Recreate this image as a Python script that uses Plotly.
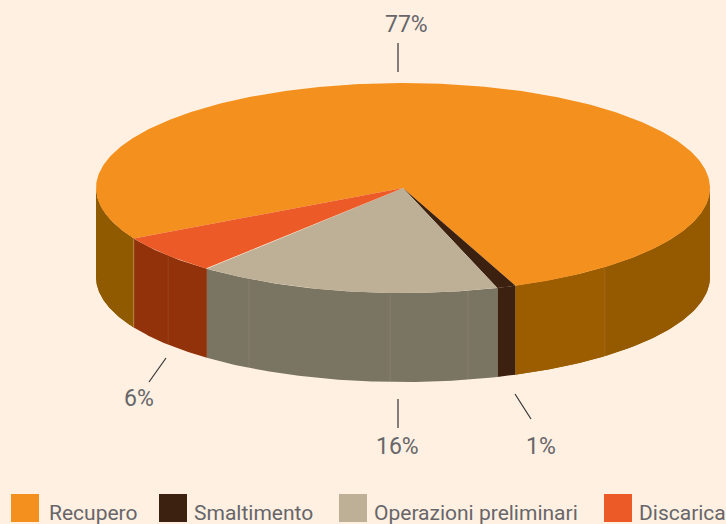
import numpy as np
import plotly.graph_objects as go

categories = ["Recupero", "Smaltimento", "Operazioni preliminari", "Discarica"]
values = [77, 1, 16, 6]
labels = ["77%", "1%", "16%", "6%"]
top_colors = ["#F4901E", "#3C2010", "#BEB096", "#EC5A28"]
side_colors = ["#9A5C00", "#3C2010", "#7A7462", "#91320A"]

BG = "#FFF0E1"
CX, CY, RX, RY, DEPTH = 403, 188, 307, 105, 89
START = 151.3
FONT = "Roboto"
TEXT = "#66666A"

seam_angles = [139.9, 120.1, 92.4, 77.8, 48.9]
label_pos = [(406, 24), (541, 446), (397, 446), (139, 398)]
leaders = [((398, 43), (398, 72)), ((515, 394), (531, 419)), ((398, 399), (398, 428)), ((166, 358), (149, 382))]
legend_sq = [11, 159, 339, 604]
legend_tx = [49, 194, 374, 639]
# slight shading differences of the first slice's wall
shade_bands = [(0, 48.9, "#955A00"), (48.9, 69.1, "#9C5D00"), (151.3, 180, "#8F5A00")]


def px(t):
    r = np.radians(t)
    return CX + RX * np.cos(r), CY + RY * np.sin(r)


fig = go.Figure()
edges = START + np.concatenate([[0], np.cumsum(values)]) * 3.6


def side(a, b, color, name):
    ts = np.linspace(a, b, 120)
    x, y = px(ts)
    fig.add_trace(go.Scatter(x=np.r_[x, x[::-1]], y=np.r_[y, y[::-1] + DEPTH], mode="lines",
                             fill="toself", fillcolor=color, line=dict(width=0),
                             hoverinfo="skip", showlegend=False, name=name))


# visible side walls: only the front half of the cylinder (0..180 degrees)
for i, cat in enumerate(categories):
    a, b = edges[i], edges[i + 1]
    for shift in (0, 360):
        lo, hi = max(a - shift, 0), min(b - shift, 180)
        if lo < hi:
            side(lo, hi, side_colors[i], cat)
limit = edges[1] - 360
for lo, hi, c in shade_bands:
    if hi > limit and lo < limit:
        hi = limit
    side(lo, hi, c, categories[0])

# top faces
for i, cat in enumerate(categories):
    ts = np.linspace(edges[i], edges[i + 1], 400)
    x, y = px(ts)
    fig.add_trace(go.Scatter(x=np.r_[CX, x, CX], y=np.r_[CY, y, CY], mode="lines",
                             fill="toself", fillcolor=top_colors[i], line=dict(width=0),
                             hoverinfo="skip", showlegend=False, name=cat))

shapes = []
x, y = px(START)
shapes.append(dict(type="line", x0=x, x1=x, y0=y + 1, y1=y + DEPTH, line=dict(color="rgba(255,240,225,0.3)", width=1)))
for t in seam_angles:
    x, y = px(t)
    shapes.append(dict(type="line", x0=x, x1=x, y0=y + 1, y1=y + DEPTH, line=dict(color="rgba(255,240,225,0.09)", width=1)))
for (p0, p1) in leaders:
    shapes.append(dict(type="line", x0=p0[0], y0=p0[1], x1=p1[0], y1=p1[1], line=dict(color="#333333", width=1.2)))
for sx, c in zip(legend_sq, top_colors):
    shapes.append(dict(type="rect", x0=sx, x1=sx + 28, y0=494, y1=522, fillcolor=c, line=dict(width=0)))

ann = []
for lab, (lx, ly) in zip(labels, label_pos):
    ann.append(dict(x=lx, y=ly, text=lab, showarrow=False, xanchor="center", yanchor="middle",
                    font=dict(family=FONT, size=23, color=TEXT)))
for cat, tx in zip(categories, legend_tx):
    ann.append(dict(x=tx, y=513, text=cat, showarrow=False, xanchor="left", yanchor="middle",
                    xshift=-2, font=dict(family=FONT, size=21, color=TEXT)))

fig.update_layout(width=726, height=524, margin=dict(l=0, r=0, t=0, b=0),
                  paper_bgcolor=BG, plot_bgcolor=BG, shapes=shapes, annotations=ann, showlegend=False,
                  xaxis=dict(range=[0, 726], visible=False, fixedrange=True),
                  yaxis=dict(range=[524, 0], visible=False, fixedrange=True))
fig.write_html("out.html", post_script="document.body.style.margin='0';document.body.style.background='%s';" % BG,
               config=dict(displayModeBar=False))
